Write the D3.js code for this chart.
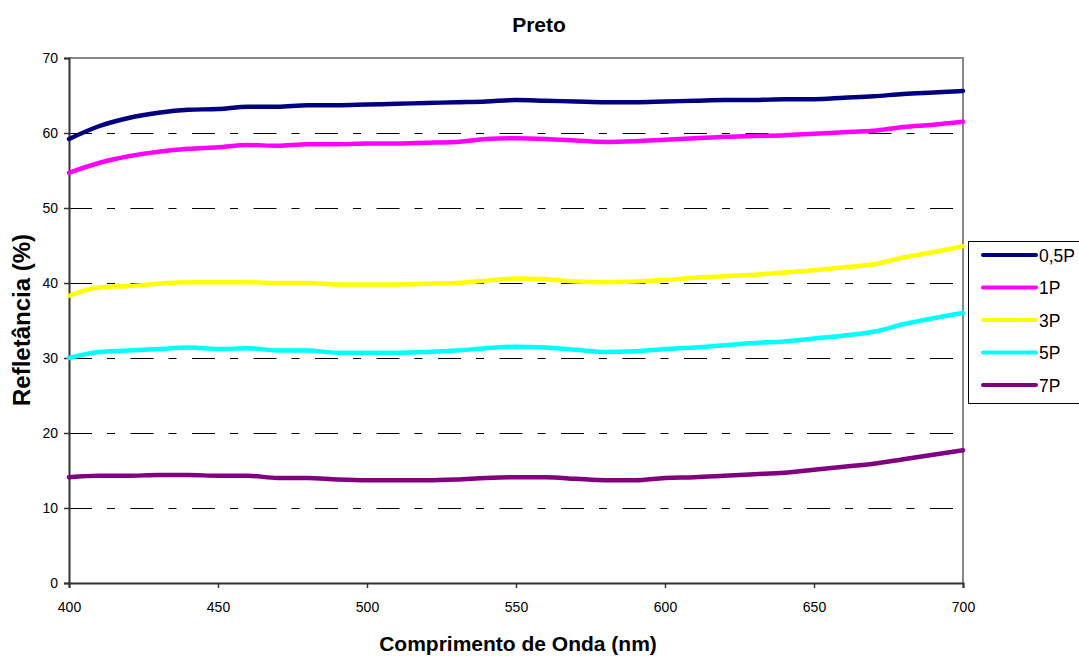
<!DOCTYPE html>
<html><head><meta charset="utf-8">
<script src="https://cdn.jsdelivr.net/npm/d3@7/dist/d3.min.js"></script>
<style>body{margin:0;background:#fff}svg{display:block;font-family:"Liberation Sans",Arial,sans-serif}</style>
</head><body><svg id="c" width="1079" height="656"></svg>
<script>
const wavelengths = d3.range(400, 701, 10);
const seriesNames = ["0,5P","1P","3P","5P","7P"];
const seriesColors = ["#000080","#FF00FF","#FFFF00","#00FFFF","#800080"];
const s05P = [59.2,60.9,62.0,62.7,63.1,63.2,63.5,63.5,63.7,63.7,63.8,63.9,64.0,64.1,64.2,64.4,64.3,64.2,64.1,64.1,64.2,64.3,64.4,64.4,64.5,64.5,64.7,64.9,65.2,65.4,65.6];
const s1P = [54.7,56.0,56.9,57.5,57.9,58.1,58.4,58.3,58.5,58.5,58.6,58.6,58.7,58.8,59.2,59.3,59.2,59.0,58.8,58.9,59.1,59.3,59.5,59.6,59.7,59.9,60.1,60.3,60.8,61.1,61.5];
const s3P = [38.3,39.4,39.6,39.9,40.1,40.1,40.1,40.0,40.0,39.8,39.8,39.8,39.9,40.0,40.3,40.6,40.5,40.2,40.1,40.2,40.4,40.7,40.9,41.1,41.4,41.7,42.1,42.5,43.4,44.1,44.9];
const s5P = [30.0,30.8,31.0,31.2,31.4,31.2,31.3,31.0,31.0,30.7,30.7,30.7,30.8,31.0,31.3,31.5,31.4,31.1,30.8,30.9,31.2,31.4,31.7,32.0,32.2,32.6,33.0,33.5,34.5,35.3,36.0];
const s7P = [14.1,14.3,14.3,14.4,14.4,14.3,14.3,14.0,14.0,13.8,13.7,13.7,13.7,13.8,14.0,14.1,14.1,13.9,13.7,13.7,14.0,14.1,14.3,14.5,14.7,15.1,15.5,15.9,16.5,17.1,17.7];
const seriesValues = [s05P,s1P,s3P,s5P,s7P];
const xTicks = [400,450,500,550,600,650,700];
const yTicks = [0,10,20,30,40,50,60,70];

const svg = d3.select("#c");
const L=69,R=963,T=58,B=583;
const x = d3.scaleLinear().domain([400,700]).range([L,R]);
const y = d3.scaleLinear().domain([0,70]).range([B,T]);

// gridlines (long dash - short dash pattern)
svg.append("g").selectAll("line").data(yTicks.filter(v=>v>0&&v<70)).join("line")
  .attr("x1",L).attr("x2",R-8).attr("y1",d=>Math.round(y(d))+0.5).attr("y2",d=>Math.round(y(d))+0.5)
  .attr("stroke","#000").attr("stroke-width",1).attr("stroke-dasharray","23,15,8,15.5");

// frame top/right
svg.append("path").attr("d",`M${L},${T}H${R}V${B}`).attr("fill","none").attr("stroke","#888").attr("stroke-width",2);

// axes
const xAxis = svg.append("g").attr("transform",`translate(0,${B})`)
  .call(d3.axisBottom(x).tickValues(xTicks).tickSize(5).tickPadding(14).tickFormat(d3.format("d")));
const yAxis = svg.append("g").attr("transform",`translate(${L},0)`)
  .call(d3.axisLeft(y).tickValues(yTicks).tickSize(5).tickPadding(6));
[xAxis,yAxis].forEach(g=>{
  g.select(".domain").attr("stroke","#333").attr("stroke-width",2);
  g.selectAll(".tick line").attr("stroke","#333").attr("stroke-width",1.5);
  g.selectAll("text").attr("font-size",14).attr("fill","#000").attr("font-family","Liberation Sans, Arial, sans-serif");
});

// lines
const line = d3.line().x((d,i)=>x(wavelengths[i])).y(d=>y(d)).curve(d3.curveMonotoneX);
svg.append("g").selectAll("path").data(seriesValues).join("path")
  .attr("d",line).attr("fill","none").attr("stroke",(d,i)=>seriesColors[i])
  .attr("stroke-width",4.5).attr("stroke-linejoin","round").attr("stroke-linecap","round");

// titles
svg.append("text").attr("x",539).attr("y",32).attr("text-anchor","middle")
  .attr("font-size",21).attr("font-weight","bold").text("Preto");
svg.append("text").attr("x",518).attr("y",651).attr("text-anchor","middle")
  .attr("font-size",21).attr("font-weight","bold").text("Comprimento de Onda (nm)");
svg.append("text").attr("transform","translate(30,320) rotate(-90)").attr("text-anchor","middle")
  .attr("font-size",24).attr("font-weight","bold").text("Refletância (%)");

// legend
const lg = svg.append("g");
lg.append("rect").attr("x",968.5).attr("y",241.5).attr("width",120).attr("height",162)
  .attr("fill","#fff").attr("stroke","#000").attr("stroke-width",1);
const rows = lg.selectAll("g.r").data(seriesNames).join("g").attr("class","r")
  .attr("transform",(d,i)=>`translate(0,${255+i*32.5})`);
rows.append("line").attr("x1",983).attr("x2",1036).attr("y1",0).attr("y2",0)
  .attr("stroke",(d,i)=>seriesColors[i]).attr("stroke-width",4).attr("stroke-linecap","round");
rows.append("text").attr("x",1039).attr("y",6.5).attr("font-size",17.5).text(d=>d);
</script></body></html>
